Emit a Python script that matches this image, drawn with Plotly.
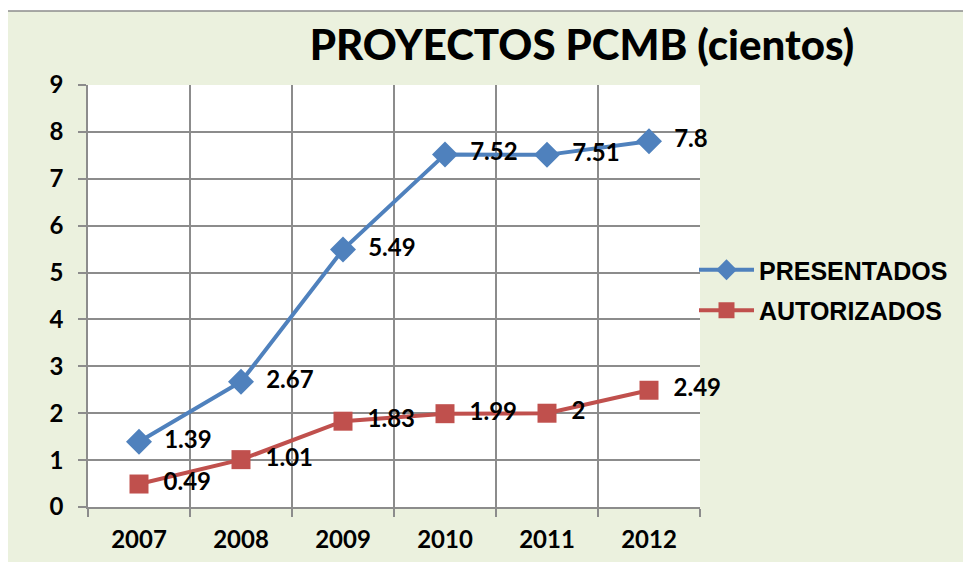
import plotly.graph_objects as go

years = ["2007", "2008", "2009", "2010", "2011", "2012"]
presentados = [1.39, 2.67, 5.49, 7.52, 7.51, 7.8]
autorizados = [0.49, 1.01, 1.83, 1.99, 2, 2.49]
pres_labels = ["1.39", "2.67", "5.49", "7.52", "7.51", "7.8"]
aut_labels = ["0.49", "1.01", "1.83", "1.99", "2", "2.49"]

BLUE = "#4F81BD"
RED = "#C0504D"
BG = "#EBF1DE"
GRID = "#8C8C8C"

OFF = 8  # page body margin
L, R, T, B = 88 - OFF, 700 - OFF, 85 - OFF, 507 - OFF
W, H = 971, 562
pw, ph = R - L, B - T


def px2x(px):
    return (px - OFF - L) / pw


def py2y(py):
    return (B - (py - OFF)) / ph


LABEL_FONT = dict(family="Lato", size=24, color="black", weight="bold")

fig = go.Figure()
fig.add_trace(go.Scatter(
    x=years, y=presentados, name="PRESENTADOS", mode="lines+markers+text",
    legendgroup="p",
    line=dict(color=BLUE, width=4),
    marker=dict(symbol="diamond", size=20, color=BLUE),
    text=["  " + t for t in pres_labels], textposition="middle right",
    textfont=LABEL_FONT, cliponaxis=False,
))
fig.add_trace(go.Scatter(
    x=years, y=autorizados, name="AUTORIZADOS", mode="lines+markers+text",
    legendgroup="a",
    line=dict(color=RED, width=4),
    marker=dict(symbol="square", size=19, color=RED),
    text=["  " + t for t in aut_labels], textposition="middle right",
    textfont=LABEL_FONT, cliponaxis=False,
))

shapes = [
    dict(type="rect", xref="paper", yref="paper", x0=px2x(-20), x1=px2x(W + 20),
         y0=py2y(11), y1=py2y(-20), fillcolor="white", line=dict(width=0), layer="below"),
    dict(type="line", xref="paper", yref="paper", x0=px2x(8), x1=px2x(W + 20),
         y0=py2y(11), y1=py2y(11), line=dict(color="#8C8C8C", width=1.5)),
]

fig.update_layout(
    width=W, height=H,
    margin=dict(l=L, r=W - R, t=T, b=H - B, pad=0),
    paper_bgcolor=BG, plot_bgcolor="white",
    title=dict(text="PROYECTOS PCMB (cientos)", x=(582 - OFF) / W,
               xanchor="center", y=1 - (45 - OFF) / H, yanchor="middle",
               font=dict(family="Lato", size=42, color="black", weight=900)),
    showlegend=True,
    legend=dict(x=px2x(694), xanchor="left", y=py2y(247), yanchor="top",
                bgcolor="rgba(0,0,0,0)", itemwidth=55, tracegroupgap=5,
                font=dict(family="Liberation Sans", size=25, color="black", weight="bold")),
    shapes=shapes,
    xaxis=dict(type="category", tickson="boundaries", showgrid=True, gridcolor=GRID,
               gridwidth=1.5, ticks="outside", ticklen=8, tickcolor=GRID, tickwidth=1.5,
               showline=True, linecolor=GRID, linewidth=1.5,
               range=[-0.5, 5.5], ticklabelstandoff=10,
               tickfont=dict(family="Lato", size=24, color="black", weight="bold")),
    yaxis=dict(range=[0, 9], dtick=1, showgrid=True, gridcolor=GRID, gridwidth=1.5,
               ticks="outside", ticklen=8, tickcolor=GRID, tickwidth=1.5,
               showline=True, linecolor=GRID, linewidth=1.5, zeroline=False,
               ticklabelstandoff=10,
               tickfont=dict(family="Lato", size=24, color="black", weight="bold")),
)

fig.write_html("out.html")
